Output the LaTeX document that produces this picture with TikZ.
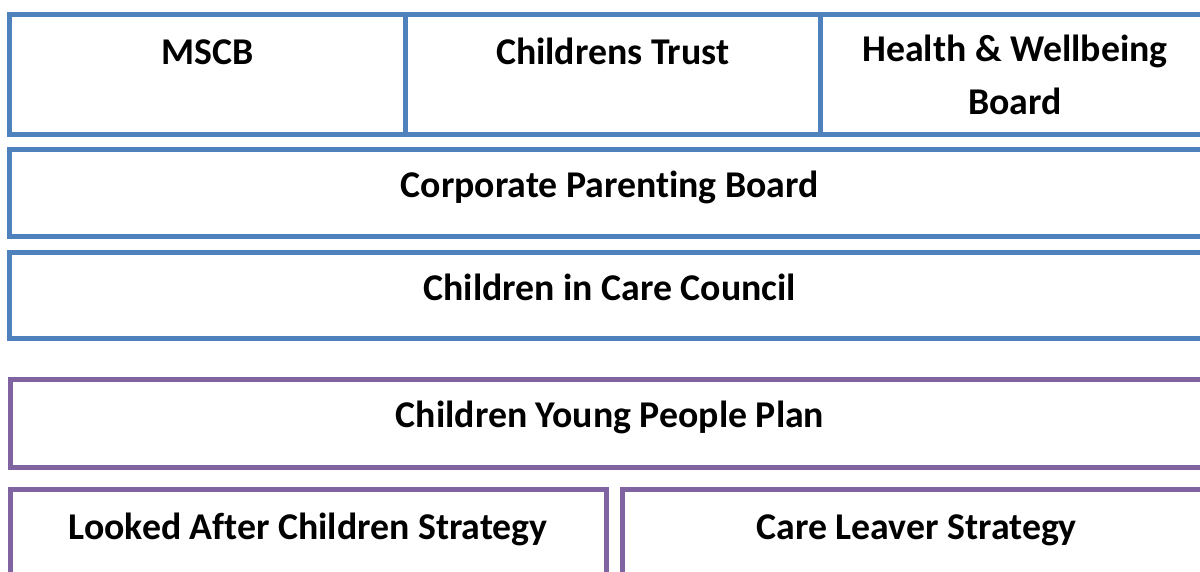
\documentclass[tikz,border=0pt]{standalone}
\usepackage{fontspec}
\setmainfont{Carlito}[Ligatures=NoCommon]
\definecolor{boardblue}{HTML}{4F81BD}
\definecolor{planpurple}{HTML}{8064A2}
\tikzset{
  cell/.style={draw, line width=2.5pt, outer sep=0pt, anchor=north west, align=center,
    font=\fontsize{18.9}{26.5}\selectfont\bfseries},
  single/.style={cell, text height=14pt, text depth=9.5pt},
  tall/.style={cell, minimum height=60pt, text height=14pt, text depth=24.2pt},
}
\begin{document}
\begin{tikzpicture}[x=0.5pt, y=-0.5pt]
      \clip (0, 0) rectangle (1200, 572);
      \fill[white] (0, 0) rectangle (1200, 572);
      % governance boards
      \node[tall, boardblue, text=black, minimum width=198pt] (mscb) at (9.5, 14.5) {MSCB};
      \node[tall, boardblue, text=black, minimum width=207.25pt] (trust) at (405.5, 14.5) {Childrens Trust};
      \node[cell, boardblue, text=black, minimum width=195pt, minimum height=60pt, text depth=-3pt] (hwb) at (820, 14.5) {Health \& Wellbeing\\Board};
      \node[single, boardblue, text=black, minimum width=600.25pt, minimum height=43.5pt] (cpb) at (9.5, 150) {Corporate Parenting Board};
      \node[single, boardblue, text=black, minimum width=600.25pt, minimum height=43pt] (cicc) at (9.5, 253) {Children in Care Council};
      % plans and strategies
      \node[single, planpurple, text=black, minimum width=600pt, minimum height=44pt] (cypp) at (10, 379.5) {Children Young People Plan};
      \node[tall, planpurple, text=black, minimum width=298.25pt] (lac) at (10, 489.5) {Looked After Children Strategy};
      \node[tall, planpurple, text=black, minimum width=294.25pt] (cls) at (622.5, 489.5) {Care Leaver Strategy};
    \end{tikzpicture}
\end{document}
